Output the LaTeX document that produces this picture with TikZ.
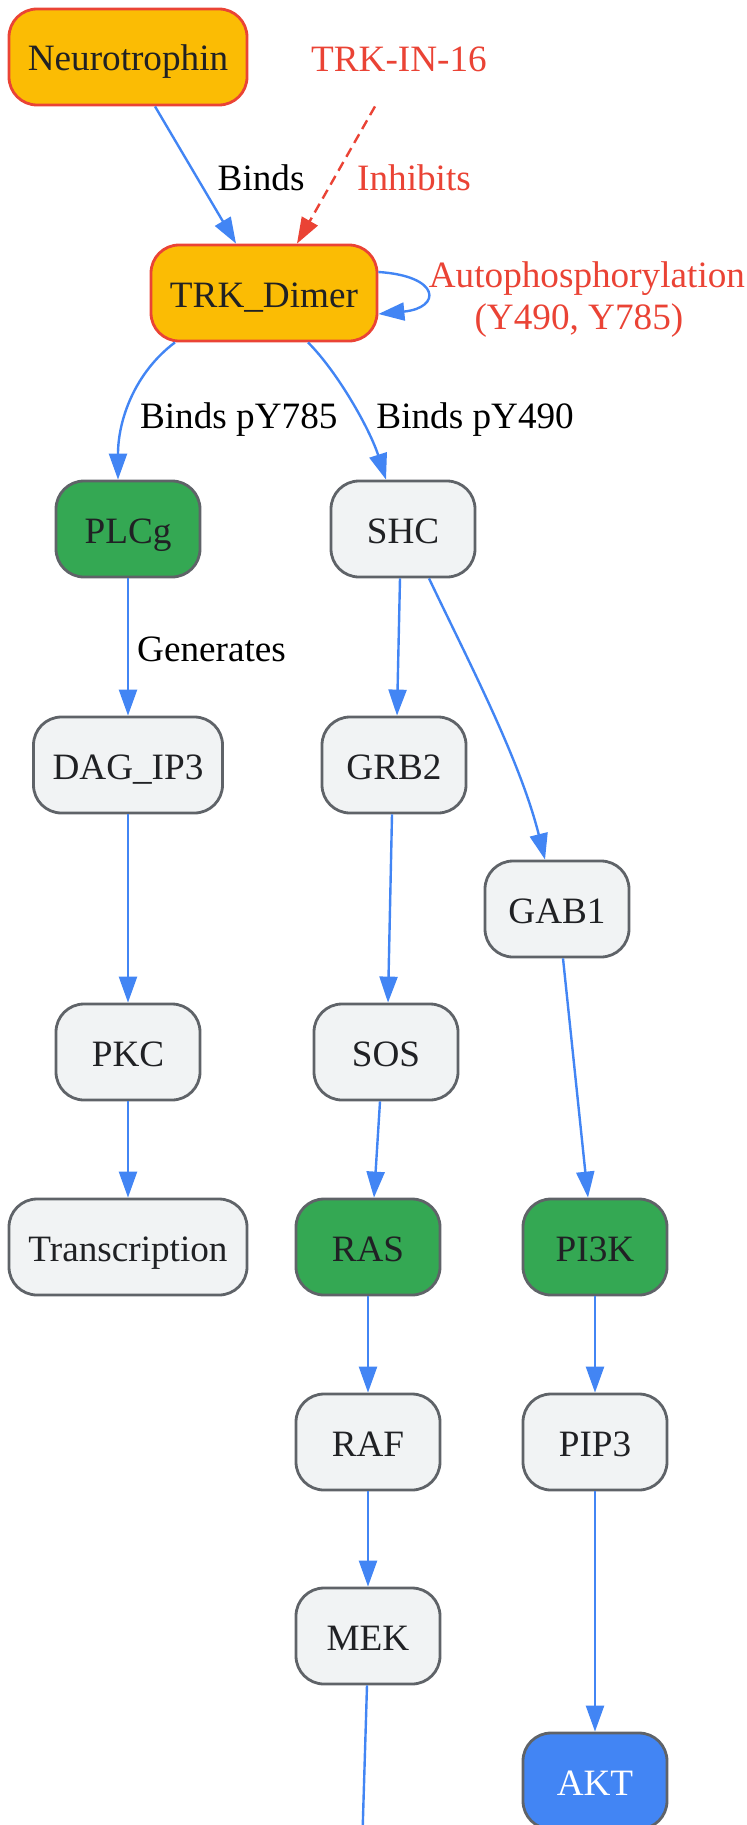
\documentclass[tikz,border=0pt]{standalone}
\usepackage{fontspec}
\setmainfont{Liberation Serif}
\usetikzlibrary{arrows.meta}

\definecolor{gOrange}{HTML}{FBBC04}
\definecolor{gRed}{HTML}{EA4335}
\definecolor{gGreen}{HTML}{34A853}
\definecolor{gBlue}{HTML}{4285F4}
\definecolor{gLight}{HTML}{F1F3F4}
\definecolor{gGrey}{HTML}{5F6368}
\definecolor{gText}{HTML}{202124}

\tikzset{
  box/.style={draw=gGrey, line width=1.4pt, fill=gLight, rounded corners=14pt,
    minimum width=72pt, minimum height=48pt, inner sep=2pt, text=gText,
    text height=15pt, text depth=1pt, font=\fontsize{18.6}{22}\selectfont},
  keybox/.style={box, fill=gOrange, draw=gRed},
  hubbox/.style={box, fill=gGreen},
  endbox/.style={box, fill=gBlue, text=white},
  drugnode/.style={minimum height=48pt, inner sep=2pt, text=gRed,
    text height=15pt, text depth=1pt, font=\fontsize{18.6}{22}\selectfont},
  link/.style={draw=gBlue, line width=1.2pt, -{Triangle[length=13pt,width=9pt]}},
  blocklink/.style={link, draw=gRed, dash pattern=on 5pt off 3pt},
  lbl/.style={inner sep=2pt, text=black, yshift=-1.2pt, font=\fontsize{18.6}{21}\selectfont}
}

\begin{document}
\begin{tikzpicture}[x=0.5pt, y=-0.5pt]

  \clip (0,0) rectangle (747,1825);

  % nodes
  \node[keybox, minimum width=119pt] (neuro) at (128,57) {Neurotrophin};
  \node[drugnode] (inhib) at (399,58) {TRK-IN-16};
  \node[keybox, minimum width=113pt] (trk) at (264,293) {TRK\_Dimer};
  \node[hubbox] (plcg) at (128,529) {PLCg};
  \node[box] (shc) at (403,529) {SHC};
  \node[box, minimum width=94.5pt] (dag) at (128,765) {DAG\_IP3};
  \node[box] (grb2) at (394,765) {GRB2};
  \node[box] (gab1) at (557,909) {GAB1};
  \node[box] (pkc) at (128,1052) {PKC};
  \node[box] (sos) at (386,1052) {SOS};
  \node[box, minimum width=119pt] (trans) at (128,1247) {Transcription};
  \node[hubbox] (ras) at (368,1247) {RAS};
  \node[hubbox] (pi3k) at (595,1247) {PI3K};
  \node[box] (raf) at (368,1442) {RAF};
  \node[box] (pip3) at (595,1442) {PIP3};
  \node[box] (mek) at (368,1636) {MEK};
  \node[endbox] (akt) at (595,1781) {AKT};
  \coordinate (erk) at (359,1950);

  % receptor
  \draw[link] ([xshift=13.5pt]neuro.south) -- node[lbl, right=8.5pt] {Binds} ([xshift=-14pt]trk.north);
  \draw[blocklink] ([xshift=-12pt]inhib.south) -- node[lbl, right=8pt, text=gRed] {Inhibits} ([xshift=16.5pt]trk.north);
  \draw[link] ([yshift=10.5pt]trk.east) .. controls +(31.5pt,-2pt) and +(31.5pt,3pt) ..
    node[lbl, right=-1pt, yshift=-2.6pt, text=gRed, align=center] {Autophosphorylation\\(Y490, Y785)\hspace*{8pt}} ([yshift=-10.5pt]trk.east);

  % adaptors
  \draw[link] ([xshift=-44.5pt]trk.south) .. controls +(-20pt,-15pt) and +(0pt,30pt) ..
    node[lbl, pos=0.55, anchor=west, xshift=3pt, yshift=-5.2pt] {Binds pY785} ([xshift=-5pt]plcg.north);
  \draw[link] ([xshift=22pt]trk.south) .. controls +(15pt,-15pt) and +(-8pt,25pt) ..
    node[lbl, anchor=west, xshift=9.5pt, yshift=-6.7pt] {Binds pY490} ([xshift=-8.5pt]shc.north);

  % PLCg branch
  \draw[link] (plcg) -- node[lbl, right=2pt] {Generates} (dag);
  \draw[link] (dag) -- (pkc);
  \draw[link] (pkc) -- (trans);

  % MAPK branch
  \draw[link] ([xshift=-1.5pt]shc.south) -- ([xshift=1.5pt]grb2.north);
  \draw[link] ([xshift=-1pt]grb2.south) -- ([xshift=1pt]sos.north);
  \draw[link] ([xshift=-3pt]sos.south) -- ([xshift=3pt]ras.north);
  \draw[link] (ras) -- (raf);
  \draw[link] (raf) -- (mek);
  \draw[link] ([xshift=-0.5pt]mek.south) -- (erk);

  % PI3K branch
  \draw[link] ([xshift=13pt]shc.south) .. controls +(19.5pt,-41pt) and +(-12.5pt,50pt) .. ([xshift=-6pt]gab1.north);
  \draw[link] ([xshift=3pt]gab1.south) -- ([xshift=-3.5pt]pi3k.north);
  \draw[link] (pi3k) -- (pip3);
  \draw[link] (pip3) -- (akt);

\end{tikzpicture}
\end{document}
